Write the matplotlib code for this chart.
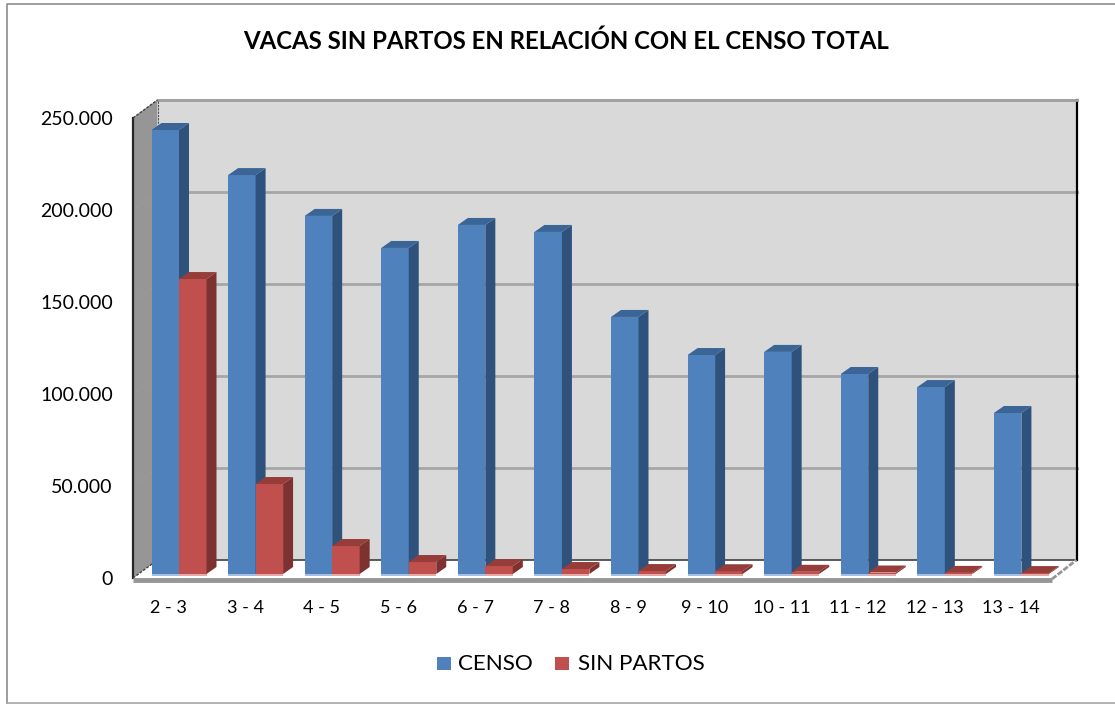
import matplotlib
matplotlib.use('Agg')
from matplotlib import pyplot as plt
from matplotlib.patches import Polygon, Rectangle

plt.rcParams['font.family'] = ['Lato', 'DejaVu Sans']

W, H = 1115, 704

categories = ['2 - 3', '3 - 4', '4 - 5', '5 - 6', '6 - 7', '7 - 8', '8 - 9', '9 - 10',
              '10 - 11', '11 - 12', '12 - 13', '13 - 14']
censo = [241300, 216800, 194600, 177200, 189700, 185900, 139700, 119000, 120700, 108700, 101600, 87500]
sin_partos = [160300, 48900, 15200, 6500, 4300, 2700, 1600, 1500, 1200, 800, 600, 500]
y_ticks = [0, 50000, 100000, 150000, 200000, 250000]
y_tick_labels = ['0', '50.000', '100.000', '150.000', '200.000', '250.000']

fig = plt.figure(figsize=(W / 100, H / 100), dpi=100)

# front plane of the 3d box, in pixels
left, right, top, bottom = 133, 1052, 118, 578
ax = fig.add_axes([left / W, 1 - bottom / H, (right - left) / W, (bottom - top) / H])
ax.set_xlim(0, 12)
ax.set_ylim(0, 250000)
ax.patch.set_visible(False)
for s in ax.spines.values():
    s.set_visible(False)

# pixel to data sizes
px = 12 / (right - left)
py = 250000 / (bottom - top)


def poly(pts, **kw):
    ax.add_patch(Polygon(pts, closed=True, clip_on=False, **kw))


# walls
dx, dy = 24.5 * px, 18 * py
poly([(dx, dy), (12 + dx, dy), (12 + dx, 250000 + dy), (dx, 250000 + dy)], fc='#D9D9D9', ec='none', zorder=1)
poly([(0, 0), (dx, dy), (dx, 250000 + dy), (0, 250000)], fc='#969696', ec='none', zorder=1)
poly([(0, 0), (12, 0), (12 + dx, dy), (dx, dy)], fc='white', ec='none', zorder=1)

# gridlines on back wall
for v in y_ticks[1:]:
    ax.plot([dx, 12 + dx], [v + dy, v + dy], color='#A6A6A6', lw=2, zorder=2, clip_on=False)
    ax.plot([0, dx], [v, v + dy], color='#9C9C9C', lw=0.5, zorder=2, clip_on=False)

# box edges
ax.plot([dx, 12 + dx], [dy, dy], color='#404040', lw=1.2, zorder=2, clip_on=False)
ax.plot([12 + dx, 12 + dx], [dy, 250000 + dy], color='black', lw=1.6, zorder=2, clip_on=False)
ax.plot([dx, 12 + dx], [250000 + dy, 250000 + dy], color='#A0A0A0', lw=2, zorder=2, clip_on=False)
ax.plot([0, 0], [0, 250000], color='#262626', lw=1.6, zorder=3, clip_on=False)
ax.plot([0, dx], [250000, 250000 + dy], color='#404040', lw=1, ls=(0, (2, 1)), zorder=3, clip_on=False)
ax.plot([dx, dx], [dy, 250000 + dy], color='#505050', lw=0.8, ls=(0, (2, 1)), zorder=2, clip_on=False)
ax.plot([0, dx], [0, dy], color='#404040', lw=1, ls=(0, (2, 1)), zorder=3, clip_on=False)
ax.plot([0, 12], [-1.5 * py, -1.5 * py], color='#969696', lw=3.5, zorder=3, clip_on=False, solid_capstyle='butt')
ax.plot([12, 12 + dx], [-1 * py, dy], color='#969696', lw=2, ls=(0, (2, 0.6)), zorder=3, clip_on=False)

# bars
bar_w = 27.5 * px
sx, sy = 10 * px, 7 * py
base = 4 * py
start = 18.5 * px


def bar3d(x, v, face, side, roof, strip, z):
    h = v + base
    ax.add_patch(Rectangle((x, base), bar_w, v, fc=face, ec='none', zorder=z, clip_on=False))
    poly([(x + bar_w, base), (x + bar_w + sx, base + sy), (x + bar_w + sx, h + sy), (x + bar_w, h)],
         fc=side, ec='none', zorder=z)
    poly([(x, h), (x + bar_w, h), (x + bar_w + sx, h + sy), (x + sx, h + sy)],
         fc=roof, ec='none', zorder=z)
    ax.add_patch(Rectangle((x, base - 1.5 * py), bar_w, 1.5 * py, fc=strip, ec='none', zorder=z, clip_on=False))


for i in range(len(categories)):
    x = i + start
    bar3d(x, censo[i], '#4F81BD', '#2F527C', '#3B6596', '#A4BFE0', 5 + i * 2)
    bar3d(x + bar_w, sin_partos[i], '#C0504D', '#7D3231', '#963C39', '#E6A9A7', 6 + i * 2)

# axis labels
ax.set_yticks(y_ticks)
ax.set_yticklabels(y_tick_labels)
ax.set_xticks([i + 0.5 - 2.5 * px for i in range(12)])
ax.set_xticklabels(categories)
ax.tick_params(axis='y', length=0, pad=14.5, labelsize=14, labelcolor='black')
ax.tick_params(axis='x', length=0, pad=16, labelsize=13, labelcolor='black')

# title
fig.text(566 / W, 1 - 41 / H, 'VACAS SIN PARTOS EN RELACIÓN CON EL CENSO TOTAL', ha='center', va='center',
         fontsize=17.3, fontweight='bold', color='black')

# legend
fig.patches.append(Rectangle((437 / W, 1 - 670 / H), 14 / W, 13 / H, transform=fig.transFigure, fc='#4F81BD', ec='none'))
fig.patches.append(Rectangle((555 / W, 1 - 670 / H), 14 / W, 13 / H, transform=fig.transFigure, fc='#C0504D', ec='none'))
fig.text(458 / W, 1 - 664 / H, 'CENSO', ha='left', va='center', fontsize=16.1)
fig.text(578 / W, 1 - 664 / H, 'SIN PARTOS', ha='left', va='center', fontsize=16.1)

# outer chart frame
fig.add_artist(plt.Line2D([7 / W, 7 / W, 1], [1 - 703 / H, 1 - 3.5 / H, 1 - 3.5 / H], color='#8C8C8C', lw=1.2))
fig.add_artist(plt.Line2D([7 / W, 1], [1 - 703 / H, 1 - 703 / H], color='#A6A6A6', lw=1.2))

fig.savefig('out.png', dpi=100)
